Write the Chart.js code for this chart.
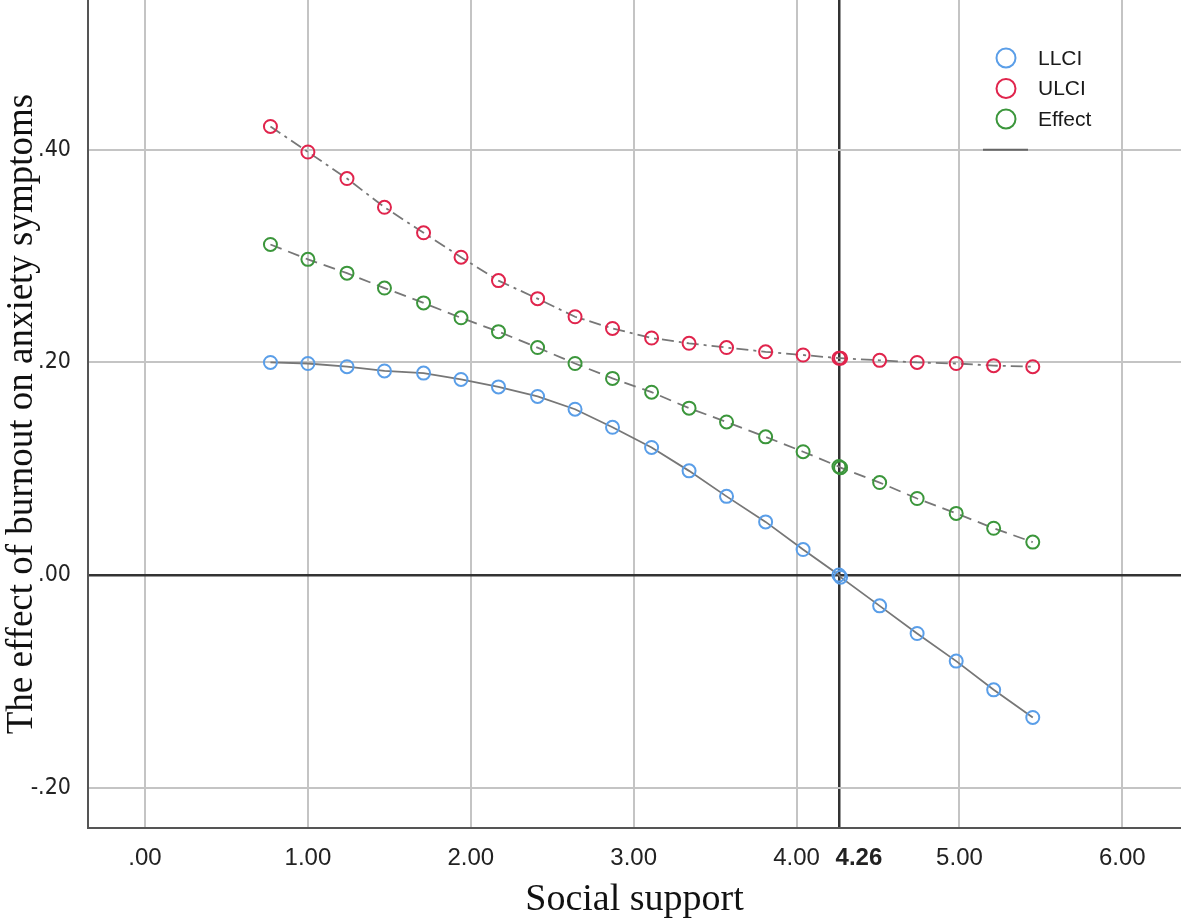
<!DOCTYPE html>
<html>
<head>
<meta charset="utf-8">
<script src="https://cdn.jsdelivr.net/npm/chart.js@4.4.1/dist/chart.umd.min.js"></script>
<style>
    html, body { margin: 0; padding: 0; background: #fff; }
    #wrap { width: 1181px; height: 924px; }
</style>
</head>
<body>
<div id="wrap"><canvas id="chart" width="1181" height="924"></canvas></div>
<script>
// Johnson-Neyman plot: effect of burnout on anxiety across social support
const supportValues = [0.77, 1.00, 1.24, 1.47, 1.71, 1.94, 2.17, 2.41, 2.64, 2.87, 3.11, 3.34, 3.57, 3.81, 4.04, 4.26, 4.27, 4.51, 4.74, 4.98, 5.21, 5.45];
const llci   = [0.200, 0.199, 0.196, 0.192, 0.190, 0.184, 0.177, 0.168, 0.156, 0.139, 0.120, 0.098, 0.074, 0.050, 0.024, 0.000, -0.002, -0.029, -0.055, -0.081, -0.108, -0.134];
const ulci   = [0.422, 0.398, 0.373, 0.346, 0.322, 0.299, 0.277, 0.260, 0.243, 0.232, 0.223, 0.218, 0.214, 0.210, 0.207, 0.204, 0.204, 0.202, 0.200, 0.199, 0.197, 0.196];
const effect = [0.311, 0.297, 0.284, 0.270, 0.256, 0.242, 0.229, 0.214, 0.199, 0.185, 0.172, 0.157, 0.144, 0.130, 0.116, 0.102, 0.101, 0.087, 0.072, 0.058, 0.044, 0.031];

const xTicks = [0, 1, 2, 3, 4, 4.26, 5, 6];
const yTicks = [-0.2, 0, 0.2, 0.4];
const jnPoint = 4.26;

const sans = "'Liberation Sans', Arial, sans-serif";
const narrow = "'Liberation Sans Narrow', 'Arial Narrow', 'DejaVu Sans Condensed', sans-serif";
const serif = "'Liberation Serif', 'Times New Roman', serif";

function fmt(v) {
    let s = Math.abs(v).toFixed(2);
    if (s.startsWith('0')) s = s.slice(1);
    return (v < 0 ? '-' : '') + s;
}

function toPoints(ys) {
    return supportValues.map((x, i) => ({ x: x, y: ys[i] }));
}

function makeSeries(label, ys, color, dash) {
    return {
        label: label,
        data: toPoints(ys),
        showLine: true,
        borderColor: '#777',
        borderWidth: 1.8,
        borderDash: dash,
        tension: 0,
        pointStyle: 'circle',
        pointRadius: 6.5,
        pointBorderWidth: 2,
        pointBorderColor: color,
        pointBackgroundColor: 'rgba(0,0,0,0)'
    };
}

// legend sits inside the plot, top right, like the SPSS output
const cornerLegend = {
    id: 'cornerLegend',
    afterDraw(chart) {
        const ctx = chart.ctx;
        const area = chart.chartArea;
        const cx = area.right - 175;
        let cy = area.top + 58;
        ctx.save();
        ctx.font = '21px ' + sans;
        ctx.textBaseline = 'middle';
        ctx.textAlign = 'left';
        chart.data.datasets.forEach(ds => {
            ctx.beginPath();
            ctx.arc(cx, cy, 9.5, 0, Math.PI * 2);
            ctx.lineWidth = 2;
            ctx.strokeStyle = ds.pointBorderColor;
            ctx.stroke();
            ctx.fillStyle = '#1a1a1a';
            ctx.fillText(ds.label, cx + 32, cy + 1);
            cy += 30.5;
        });
        const yLine = chart.scales.y.getPixelForValue(0.4);
        ctx.beginPath();
        ctx.moveTo(cx - 23, yLine);
        ctx.lineTo(cx + 22, yLine);
        ctx.strokeStyle = '#666';
        ctx.lineWidth = 2;
        ctx.stroke();
        ctx.restore();
    }
};

new Chart(document.getElementById('chart'), {
    type: 'scatter',
    data: {
        datasets: [
            makeSeries('LLCI', llci, '#5a9ee8', []),
            makeSeries('ULCI', ulci, '#e0244c', [12, 5, 3, 5]),
            makeSeries('Effect', effect, '#3b963b', [12, 7])
        ]
    },
    options: {
        responsive: false,
        animation: false,
        layout: { padding: 0, autoPadding: false },
        plugins: {
            legend: { display: false },
            tooltip: { enabled: false }
        },
        scales: {
            x: {
                type: 'linear',
                min: -0.35,
                max: 6.36,
                afterBuildTicks: (scale) => { scale.ticks = xTicks.map(v => ({ value: v })); },
                afterFit: (scale) => {
                    scale.height = 96;
                    scale.paddingLeft = 0;
                    scale.paddingRight = 0;
                },
                ticks: {
                    padding: 16,
                    color: '#222',
                    autoSkip: false,
                    maxRotation: 0,
                    font: (c) => ({
                        family: sans,
                        size: 24,
                        weight: c.tick && c.tick.value === jnPoint ? 'bold' : 'normal'
                    }),
                    callback: (v) => v === jnPoint ? '      ' + fmt(v) : fmt(v)
                },
                grid: {
                    drawTicks: false,
                    color: (c) => c.tick && c.tick.value === jnPoint ? '#333' : '#c4c4c4',
                    lineWidth: (c) => c.tick && c.tick.value === jnPoint ? 2.5 : 2
                },
                border: { display: true, color: '#555', width: 2 },
                title: {
                    display: true,
                    text: 'Social support',
                    color: '#111',
                    font: { family: serif, size: 38 },
                    padding: { top: 0, bottom: 1 }
                }
            },
            y: {
                type: 'linear',
                min: -0.238,
                max: 0.541,
                afterBuildTicks: (scale) => { scale.ticks = yTicks.map(v => ({ value: v })); },
                afterFit: (scale) => {
                    scale.width = 88;
                    scale.paddingTop = 0;
                    scale.paddingBottom = 0;
                },
                ticks: {
                    padding: 17,
                    color: '#222',
                    font: { family: narrow, size: 23 },
                    callback: (v) => fmt(v)
                },
                grid: {
                    drawTicks: false,
                    color: (c) => c.tick && c.tick.value === 0 ? '#333' : '#c4c4c4',
                    lineWidth: (c) => c.tick && c.tick.value === 0 ? 2.5 : 2
                },
                border: { display: true, color: '#555', width: 2 },
                title: {
                    display: true,
                    text: 'The effect of burnout on anxiety symptoms',
                    color: '#111',
                    font: { family: serif, size: 37 },
                    padding: { top: 0, bottom: 0 }
                }
            }
        }
    },
    plugins: [cornerLegend]
});
</script>
</body>
</html>
